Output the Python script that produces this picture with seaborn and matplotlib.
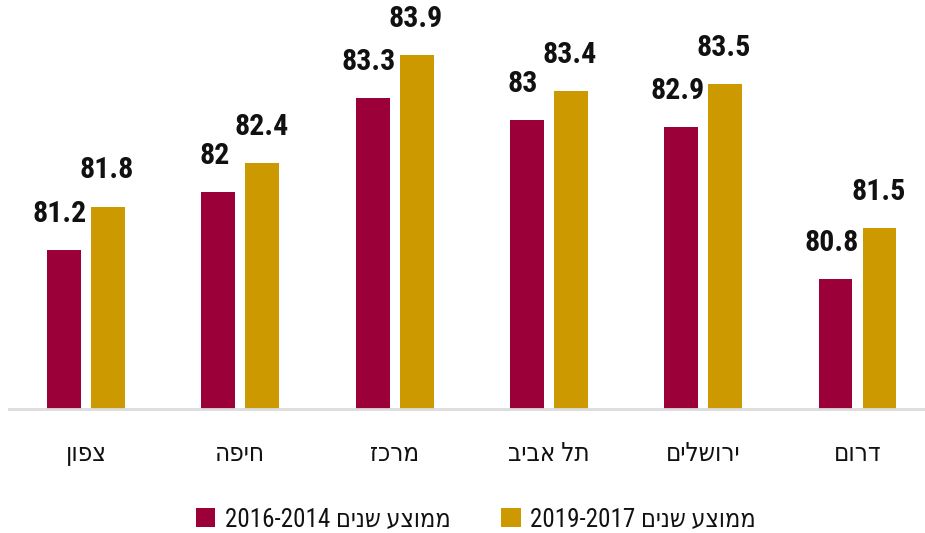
import matplotlib
matplotlib.use("Agg")
import matplotlib.pyplot as plt
from matplotlib import font_manager
import seaborn as sns
import pandas as pd

categories = ['צפון', 'חיפה', 'מרכז', 'תל אביב', 'ירושלים', 'דרום']
series_names = ['ממוצע שנים 2016-2014', 'ממוצע שנים 2019-2017']
avg_2014_2016 = [81.2, 82, 83.3, 83, 82.9, 80.8]
avg_2017_2019 = [81.8, 82.4, 83.9, 83.4, 83.5, 81.5]
colors = ['#9B0038', '#CC9900']


def vis(s):
    # visual (right-to-left) order for Hebrew text; keep digit runs LTR
    words = s.split(' ')
    out = []
    for w in words:
        if any('\u0590' <= ch <= '\u05FF' for ch in w):
            out.append(w[::-1])
        else:
            out.append(w)
    return ' '.join(out[::-1])


disp_cats = [vis(c) for c in categories]
disp_series = [vis(s) for s in series_names]

df = pd.DataFrame({
    'region': disp_cats * 2,
    'value': avg_2014_2016 + avg_2017_2019,
    'series': [disp_series[0]] * len(categories) + [disp_series[1]] * len(categories),
})

installed = {f.name for f in font_manager.fontManager.ttflist}
narrow = None
for cand in ['Roboto Condensed', 'Liberation Sans Narrow', 'Open Sans Condensed', 'Arial Narrow']:
    if cand in installed:
        narrow = cand
        break
if narrow:
    fams = [narrow, 'DejaVu Sans']
    num_size, leg_size = 21.5, 18
else:
    fams = ['DejaVu Sans']
    num_size, leg_size = 19, 16

sns.set_theme(style='white')
plt.rcParams['font.family'] = fams

fig = plt.figure(figsize=(9.25, 5.33), dpi=100)
ax = fig.add_axes([8.85 / 925, 124 / 533, 916 / 925, 409 / 533])

sns.barplot(data=df, x='region', y='value', hue='series', order=disp_cats,
            hue_order=disp_series, palette=colors, saturation=1, width=0.57, gap=0.23,
            linewidth=0, ax=ax, legend=True)

ax.set_ylim(79, 79 + 409 / 72.26)
ax.set_xlim(-0.5, -0.5 + 916 / 154.3)

pad = 16
for i, cont in enumerate(ax.containers):
    anns = ax.bar_label(cont, labels=[f'{v:g}' for v in cont.datavalues], padding=pad,
                        fontsize=num_size, fontweight='bold', fontstretch='condensed',
                        family=fams, color='#111111')
    dx = -2.8 if i == 0 else -0.8
    for a in anns:
        a.xyann = (dx, pad)

ax.set_xlabel('')
ax.set_ylabel('')
ax.set_yticks([])
ax.tick_params(axis='x', length=0, pad=24, labelsize=18.5)
for lab in ax.get_xticklabels():
    lab.set_fontstretch('condensed')
    lab.set_family(fams)
    lab.set_color('#111111')
for sp in ['left', 'right', 'top']:
    ax.spines[sp].set_visible(False)
ax.spines['bottom'].set_color('#dcdcdc')
ax.spines['bottom'].set_linewidth(2)

handles, labels = ax.get_legend_handles_labels()
ax.legend_.remove()
leg = fig.legend(handles, labels, loc='center', bbox_to_anchor=(476 / 925, 1 - 519 / 533),
                 ncol=2, frameon=False, handlelength=0.78, handleheight=0.78,
                 handletextpad=0.4, columnspacing=2.0,
                 prop={'size': leg_size, 'stretch': 'condensed', 'family': fams})
for t in leg.get_texts():
    t.set_color('#111111')

fig.savefig('out.png', dpi=100)
